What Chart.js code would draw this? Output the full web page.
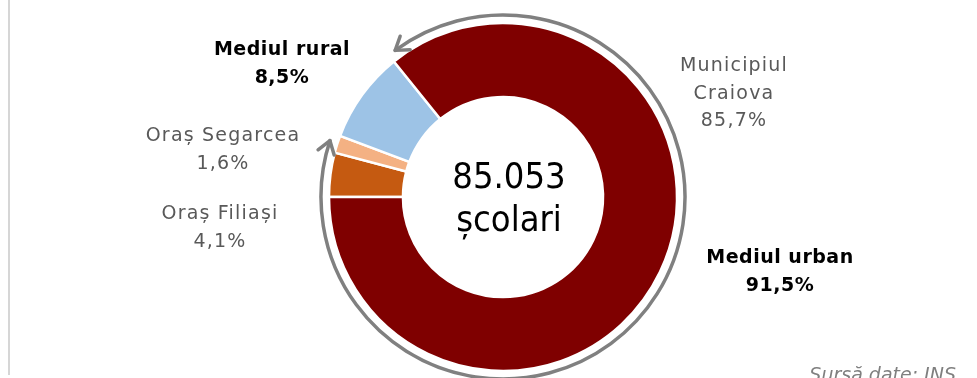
<!DOCTYPE html>
<html>
<head>
<meta charset="utf-8">
<script src="https://cdn.jsdelivr.net/npm/chart.js@4"></script>
<style>
  html, body { margin: 0; padding: 0; background: #fff; }
  #wrap { position: relative; width: 977px; height: 378px; overflow: hidden; }
  #edge { position: absolute; left: 8px; top: 0; width: 2px; height: 375px; background: #d6d6d6; }
  canvas { position: absolute; left: 0; top: 0; }
</style>
</head>
<body>
<div id="wrap">
  <div id="edge"></div>
  <canvas id="scoliChart" width="977" height="378"></canvas>
</div>
<script>
// structura populatiei scolare, pe medii
const categories = ['Oraș Filiași', 'Oraș Segarcea', 'Mediul rural', 'Municipiul Craiova'];
const shares = [4.1, 1.6, 8.5, 85.7];
const sliceColors = ['#c55a11', '#f4b183', '#9dc3e6', '#7f0000'];
const totalLabel = ['85.053', 'școlari'];
const urbanLabel = ['Mediul urban', '91,5%'];
const ruralLabel = ['Mediul rural', '8,5%'];
const sourceLabel = 'Sursă date: INS';

const FONT = '"DejaVu Sans", sans-serif';

function pct(v) {
    return v.toFixed(1).replace('.', ',') + '%';
}

// texte in jurul inelului, pozitionate fata de centrul graficului
const annotations = {
    id: 'annotations',
    afterDatasetsDraw(chart) {
        const ctx = chart.ctx;
        const meta = chart.getDatasetMeta(0);
        const first = meta.data[0];
        const cx = first.x, cy = first.y;

        // arcul gri pentru mediul urban (Craiova + Filiasi + Segarcea)
        const craiova = meta.data[3];
        const segarcea = meta.data[1];
        const gap = 2.5 * Math.PI / 180;
        const a1 = craiova.startAngle + gap;
        const a2 = segarcea.endAngle + 2 * Math.PI - gap;
        const r = craiova.outerRadius + 8;
        ctx.save();
        ctx.strokeStyle = '#808080';
        ctx.lineWidth = 3.5;
        ctx.lineCap = 'round';
        ctx.lineJoin = 'round';
        ctx.beginPath();
        ctx.arc(cx, cy, r, a1, a2);
        ctx.stroke();
        // varfuri de sageata la ambele capete
        function arrowHead(a, dir) {
            const px = cx + r * Math.cos(a), py = cy + r * Math.sin(a);
            const tx = -Math.sin(a) * dir, ty = Math.cos(a) * dir;
            const len = 15, spread = 0.6;
            const bx = -tx, by = -ty;
            ctx.beginPath();
            ctx.moveTo(px + len * (bx * Math.cos(spread) - by * Math.sin(spread)),
                       py + len * (bx * Math.sin(spread) + by * Math.cos(spread)));
            ctx.lineTo(px, py);
            ctx.lineTo(px + len * (bx * Math.cos(-spread) - by * Math.sin(-spread)),
                       py + len * (bx * Math.sin(-spread) + by * Math.cos(-spread)));
            ctx.stroke();
        }
        arrowHead(a1, -1);
        arrowHead(a2, 1);
        ctx.restore();

        function lines(texts, x, y, font, color, step, spacing) {
            ctx.save();
            ctx.font = font;
            ctx.fillStyle = color;
            ctx.letterSpacing = spacing || '0px';
            ctx.textAlign = 'center';
            ctx.textBaseline = 'alphabetic';
            texts.forEach((t, i) => ctx.fillText(t, cx + x, cy + y + i * step));
            ctx.restore();
        }

        const gray = '#595959';
        const normal = '19px ' + FONT;
        const bold = 'bold 19px ' + FONT;

        lines(['Municipiul', 'Craiova', pct(shares[3])], 231, -126, normal, gray, 27.5, '1.2px');
        lines(['Oraș Segarcea', pct(shares[1])], -280, -56, normal, gray, 27.5, '1.2px');
        lines(['Oraș Filiași', pct(shares[0])], -283, 22, normal, gray, 28, '1.2px');
        lines(ruralLabel, -221, -142, bold, '#000', 27.5, '0.5px');
        lines(urbanLabel, 277, 66, bold, '#000', 28, '0.5px');
        lines(totalLabel, 6, -9, '36px "DejaVu Sans Condensed", ' + FONT, '#000', 43);

        ctx.save();
        ctx.font = 'italic 19px ' + FONT;
        ctx.fillStyle = '#7f7f7f';
        ctx.textAlign = 'right';
        ctx.fillText(sourceLabel, 956, 381);
        ctx.restore();
    }
};

new Chart(document.getElementById('scoliChart'), {
    type: 'doughnut',
    data: {
        labels: categories,
        datasets: [{
            data: shares,
            backgroundColor: sliceColors,
            borderColor: '#ffffff',
            borderWidth: 2.5,
            hoverOffset: 0
        }]
    },
    options: {
        responsive: false,
        devicePixelRatio: 1,
        animation: false,
        rotation: -90,
        radius: 174,
        cutout: '57.5%',
        layout: {
            padding: { left: 29, right: 0, top: 16, bottom: 0 }
        },
        plugins: {
            legend: { display: false },
            tooltip: { enabled: false }
        }
    },
    plugins: [annotations]
});
</script>
</body>
</html>
